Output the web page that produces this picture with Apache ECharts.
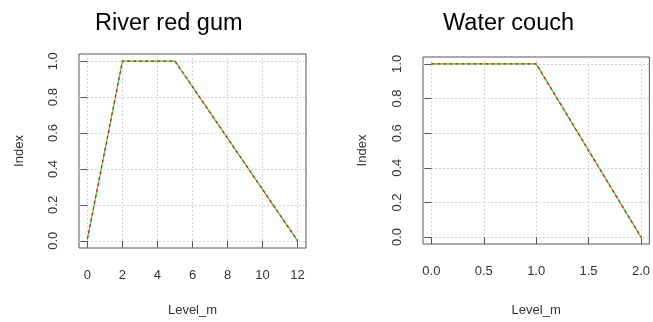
<!DOCTYPE html>
<html>
<head>
<meta charset="utf-8">
<script src="https://cdn.jsdelivr.net/npm/echarts@6/dist/echarts.min.js"></script>
<style>
  html, body { margin: 0; padding: 0; background: #fff; }
  #chart { width: 653px; height: 322px; }
</style>
</head>
<body>
<div id="chart"></div>
<script>
// River red gum: Level_m -> Index
const gumLevel = [0, 2, 5, 12];
const gumIndex = [0.01, 1, 1, 0];
// Water couch
const couchLevel = [0, 1, 2];
const couchIndex = [1, 1, 0];

const gumXTicks = [0, 2, 4, 6, 8, 10, 12];
const couchXTicks = [0, 0.5, 1, 1.5, 2];
const yTicks = [0, 0.2, 0.4, 0.6, 0.8, 1];

const font = 'Liberation Sans, Arial, sans-serif';
const textColor = '#333';
const frameColor = '#555';

const pairs = (xs, ys) => xs.map((x, i) => [x, ys[i]]);

// R style axis: range padded by 4%, ticks only at pretty values
const xAxisR = (grid, min, max, ticks, digits, gap) => ({
	gridIndex: grid,
	type: 'value',
	min: min,
	max: max,
	name: 'Level_m',
	nameLocation: 'middle',
	nameGap: gap,
	nameTextStyle: { fontFamily: font, fontSize: 13, color: textColor },
	axisLine: { show: false },
	axisTick: { show: true, length: 7, customValues: ticks, lineStyle: { color: frameColor } },
	axisLabel: {
		customValues: ticks,
		margin: 21,
		fontFamily: font,
		fontSize: 13,
		color: textColor,
		formatter: v => v.toFixed(digits),
	},
	splitLine: { show: true, lineStyle: { color: '#d3d3d3', type: [2, 2] } },
});

const yAxisR = (grid, gap) => ({
	gridIndex: grid,
	type: 'value',
	min: -0.04,
	max: 1.04,
	name: 'Index',
	nameLocation: 'middle',
	nameGap: gap,
	nameTextStyle: { fontFamily: font, fontSize: 13, color: textColor },
	axisLine: { show: false },
	axisTick: { show: true, length: 7, customValues: yTicks, lineStyle: { color: frameColor } },
	axisLabel: {
		customValues: yTicks,
		rotate: 90,
		margin: 19,
		fontFamily: font,
		fontSize: 13,
		color: textColor,
		formatter: v => v.toFixed(1),
	},
	splitLine: { show: true, lineStyle: { color: '#d3d3d3', type: [2, 2] } },
});

const lineR = (idx, data, color, dash) => ({
	type: 'line',
	xAxisIndex: idx,
	yAxisIndex: idx,
	data: data,
	symbol: 'none',
	silent: true,
	lineStyle: { color: color, width: 1.2, type: dash },
	z: dash === 'solid' ? 2 : 3,
});

const chart = echarts.init(document.getElementById('chart'), null, { renderer: 'canvas' });

chart.setOption({
	animation: false,
	backgroundColor: '#fff',
	title: [
		{ text: 'River red gum', left: 90, top: 7, textStyle: { fontFamily: font, fontSize: 23.5, fontWeight: 'normal', color: '#000' } },
		{ text: 'Water couch', left: 438, top: 7, textStyle: { fontFamily: font, fontSize: 23.5, fontWeight: 'normal', color: '#000' } },
	],
	grid: [
		{ left: 79, top: 54, width: 227, height: 194, show: true, borderColor: frameColor, borderWidth: 1, backgroundColor: 'transparent' },
		{ left: 423, top: 57, width: 229, height: 195, show: true, borderColor: frameColor, borderWidth: 1, backgroundColor: 'transparent' },
	],
	xAxis: [
		xAxisR(0, -0.48, 12.48, gumXTicks, 0, 56),
		xAxisR(1, -0.08, 2.08, couchXTicks, 1, 60),
	],
	yAxis: [
		yAxisR(0, 53),
		yAxisR(1, 54),
	],
	series: [
		lineR(0, pairs(gumLevel, gumIndex), '#33dd33', 'solid'),
		lineR(0, pairs(gumLevel, gumIndex), '#ff0000', [3, 3]),
		lineR(1, pairs(couchLevel, couchIndex), '#33dd33', 'solid'),
		lineR(1, pairs(couchLevel, couchIndex), '#ff0000', [3, 3]),
	],
});
</script>
</body>
</html>
